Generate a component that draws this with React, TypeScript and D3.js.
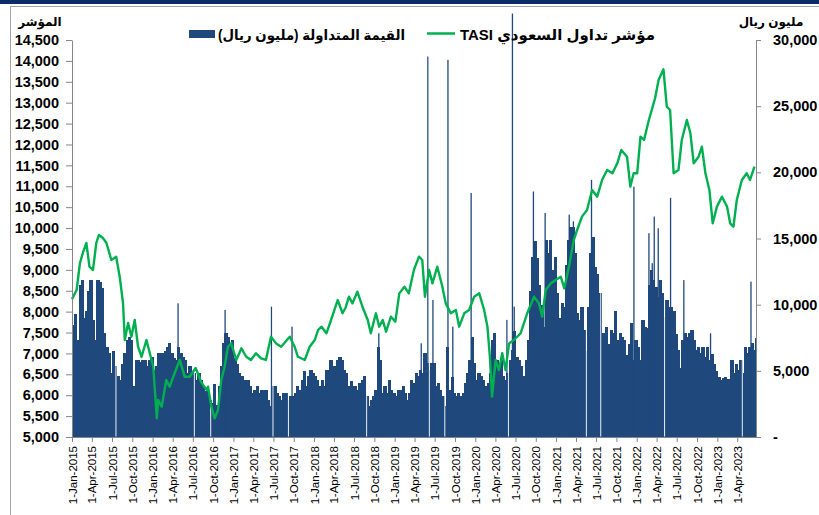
import React, { useEffect, useRef } from "react";
import * as d3 from "d3";

const W = 819,
  H = 515;

// axis ticks
const indexTicks = [
  5000, 5500, 6000, 6500, 7000, 7500, 8000, 8500, 9000, 9500, 10000, 10500,
  11000, 11500, 12000, 12500, 13000, 13500, 14000, 14500,
];
const valueTicks = [0, 5000, 10000, 15000, 20000, 25000, 30000];

const legendBars = "القيمة المتداولة (مليون ريال)";
const legendLine = "مؤشر تداول السعودي TASI";
const leftTitle = "المؤشر";
const rightTitle = "مليون ريال";

// TASI close
const tasi: [string, number][] = [
  ["2015-01-01", 8300], ["2015-01-22", 8518], ["2015-02-06", 9164], ["2015-02-21", 9434],
  ["2015-03-07", 9643], ["2015-03-21", 9075], ["2015-04-06", 8996], ["2015-04-21", 9643],
  ["2015-05-03", 9834], ["2015-05-21", 9762], ["2015-06-06", 9643], ["2015-06-28", 9236],
  ["2015-07-20", 9315], ["2015-08-05", 8836], ["2015-08-20", 8206], ["2015-08-28", 7321],
  ["2015-09-12", 7728], ["2015-09-27", 7400], ["2015-10-12", 7800], ["2015-10-27", 7160],
  ["2015-11-12", 6920], ["2015-12-04", 7321], ["2015-12-19", 7010], ["2016-01-04", 6682],
  ["2016-01-20", 5450], ["2016-01-26", 5885], ["2016-02-11", 5725], ["2016-03-03", 6364],
  ["2016-03-18", 6204], ["2016-04-10", 6532], ["2016-05-03", 6843], ["2016-05-25", 6443],
  ["2016-06-17", 6443], ["2016-07-14", 6650], ["2016-08-10", 6292], ["2016-09-02", 6125],
  ["2016-09-08", 6204], ["2016-09-23", 5725], ["2016-10-08", 5447], ["2016-10-23", 5646],
  ["2016-11-07", 6364], ["2016-11-22", 6682], ["2016-12-07", 7160], ["2016-12-22", 7240],
  ["2017-01-14", 6843], ["2017-02-06", 7122], ["2017-02-28", 6920], ["2017-03-21", 6843],
  ["2017-04-13", 7003], ["2017-05-06", 6883], ["2017-05-28", 6843], ["2017-06-20", 7400],
  ["2017-07-13", 7240], ["2017-08-05", 7160], ["2017-09-13", 7400], ["2017-10-05", 7160],
  ["2017-10-20", 6920], ["2017-11-20", 6843], ["2017-12-12", 7160], ["2018-01-04", 7321],
  ["2018-01-19", 7560], ["2018-02-04", 7640], ["2018-02-26", 7481], ["2018-03-19", 7800],
  ["2018-04-18", 8278], ["2018-05-10", 7960], ["2018-05-24", 8100], ["2018-06-08", 8357],
  ["2018-06-24", 8198], ["2018-07-16", 8477], ["2018-08-08", 8118], ["2018-09-01", 7800],
  ["2018-09-15", 7481], ["2018-10-08", 7960], ["2018-10-23", 7640], ["2018-11-08", 7800],
  ["2018-11-23", 7520], ["2018-12-15", 7879], ["2019-01-04", 7760], ["2019-01-22", 8437],
  ["2019-02-14", 8597], ["2019-03-06", 8437], ["2019-03-29", 8996], ["2019-04-21", 9315],
  ["2019-05-06", 9236], ["2019-05-18", 8357], ["2019-06-06", 8996], ["2019-06-21", 8677],
  ["2019-07-13", 9075], ["2019-08-05", 8597], ["2019-08-20", 8198], ["2019-09-12", 7960],
  ["2019-10-05", 8039], ["2019-10-20", 7640], ["2019-11-12", 7960], ["2019-12-04", 8039],
  ["2019-12-27", 8357], ["2020-01-19", 8437], ["2020-02-10", 8039], ["2020-02-25", 7640],
  ["2020-03-07", 6920], ["2020-03-17", 5965], ["2020-04-02", 6843], ["2020-04-17", 6603],
  ["2020-05-02", 7003], ["2020-05-17", 6603], ["2020-06-02", 7240], ["2020-06-24", 7321],
  ["2020-07-24", 7481], ["2020-08-23", 7960], ["2020-09-23", 8357], ["2020-10-15", 8198],
  ["2020-10-30", 7879], ["2020-11-15", 8518], ["2020-12-08", 8677], ["2020-12-30", 8757],
  ["2021-01-22", 8836], ["2021-02-07", 8557], ["2021-02-28", 9075], ["2021-03-22", 9714],
  ["2021-04-06", 9954], ["2021-04-28", 10273], ["2021-05-21", 10432], ["2021-06-13", 10911],
  ["2021-07-06", 10751], ["2021-07-28", 11150], ["2021-08-20", 11390], ["2021-09-13", 11310],
  ["2021-10-05", 11549], ["2021-10-23", 11868], ["2021-11-18", 11708], ["2021-12-03", 10990],
  ["2021-12-18", 11310], ["2022-01-03", 11310], ["2022-01-18", 12187], ["2022-02-03", 12107],
  ["2022-02-25", 12586], ["2022-03-10", 12825], ["2022-03-25", 13105], ["2022-04-10", 13543],
  ["2022-05-02", 13798], ["2022-05-17", 12905], ["2022-06-01", 12825], ["2022-06-17", 11310],
  ["2022-07-09", 11390], ["2022-07-24", 12107], ["2022-08-16", 12586], ["2022-09-01", 12267],
  ["2022-09-16", 11549], ["2022-10-08", 11708], ["2022-10-23", 11948], ["2022-11-08", 11310],
  ["2022-11-26", 10911], ["2022-12-11", 10113], ["2022-12-30", 10512], ["2023-01-22", 10751],
  ["2023-02-14", 10512], ["2023-02-28", 10113], ["2023-03-15", 10033], ["2023-03-30", 10672],
  ["2023-04-22", 11150], ["2023-05-14", 11310], ["2023-05-29", 11150], ["2023-06-18", 11469],
];

// traded value (SAR mn), three readings a month: 1st, 11th, 21st
const value2015 = [
  8500, 9300, 7330, 11500, 11870, 9000, 9500, 11000, 11870, 8850, 7330, 11870,
  11700, 11240, 7840, 6830, 6330, 4830, 6500, 5340, 4580, 4310, 5500, 6330,
  7330, 7590, 7330, 3820, 5840, 5840, 5700, 5840, 5840, 5340, 5800, 6080,
];
const value2016 = [
  5080, 5340, 6330, 6330, 6330, 6500, 6830, 7080, 6330, 6000, 5840, 6830,
  6330, 6080, 5840, 4830, 5340, 5000, 4830, 4310, 4830, 4310, 3820, 3500,
  3320, 2820, 2570, 4000, 2400, 3820, 5340, 7080, 7840, 7590, 7080, 7330,
];
const value2017 = [
  6000, 5500, 4830, 4580, 4330, 3820, 4330, 3820, 3320, 3570, 3820, 3320,
  3570, 3570, 3570, 2820, 2320, 3820, 3820, 3320, 3070, 2820, 3320, 3320,
  2820, 3070, 3070, 3320, 3820, 3570, 4330, 5000, 3820, 4580, 5080, 4830,
];
const value2018 = [
  4580, 4330, 3820, 4330, 3820, 5080, 5080, 5840, 5340, 5340, 5840, 6080,
  5840, 5080, 4830, 3820, 4200, 3840, 3840, 3570, 4080, 4330, 4580, 3070,
  2320, 2820, 3070, 3570, 6830, 5840, 3320, 3820, 3320, 4330, 3570, 3320,
];
const value2019 = [
  3070, 3570, 3570, 3820, 3320, 2820, 3320, 4330, 4080, 4830, 4580, 5080,
  4830, 6330, 5590, 5080, 5590, 5590, 3820, 4080, 3570, 3070, 2320, 6830,
  3570, 4500, 3320, 3070, 3320, 3070, 3320, 4080, 4830, 5840, 7590, 5590,
];
const value2020 = [
  4330, 4830, 4580, 4330, 3820, 4080, 4830, 7330, 7840, 5840, 5340, 5840,
  4580, 4330, 4830, 5840, 6580, 8000, 6080, 5840, 5340, 4580, 5840, 7330,
  11000, 13600, 14800, 13500, 11500, 10000, 8340, 14890, 13880, 14890, 12600, 13630,
];
const value2021 = [
  10860, 9000, 10100, 9850, 13000, 14890, 15890, 15890, 13880, 9350, 8850, 9850,
  8090, 6500, 9850, 13880, 15150, 12870, 12350, 10860, 7840, 7840, 8340, 7000,
  8090, 7840, 9500, 7330, 7840, 7590, 7330, 6200, 7000, 8590, 5840, 7330,
];
const value2022 = [
  6830, 5840, 8840, 8340, 8200, 11500, 12600, 11860, 11340, 10600, 11860, 10860,
  9100, 10350, 9850, 9800, 9500, 7800, 6580, 5200, 7330, 7840, 7590, 7840,
  8090, 7330, 6580, 6830, 6330, 6830, 6080, 6830, 5840, 6300, 5500, 4950,
];
const value2023 = [
  4500, 4300, 4450, 4500, 4400, 4000, 5800, 4830, 5500, 5080, 5840, 4830,
  6830, 6330, 6830, 7080, 6600, 7500,
];

// single-day peaks that stand out of the bars
const valueSpikes: [string, number][] = [
  ["2016-04-25", 10100], ["2016-11-24", 9600], ["2017-06-22", 9850], ["2017-09-23", 8340],
  ["2018-10-21", 7840], ["2019-05-01", 7080], ["2019-05-31", 28750], ["2019-06-23", 10360],
  ["2019-08-30", 28500], ["2019-09-21", 8340], ["2019-12-13", 18440], ["2020-05-23", 8850],
  ["2020-06-17", 32000], ["2020-06-25", 9850], ["2020-09-20", 18550], ["2020-11-12", 16930],
  ["2021-03-01", 16800], ["2021-03-20", 16300], ["2021-06-10", 19430], ["2021-12-19", 18920],
  ["2022-02-25", 15400], ["2022-03-12", 13130], ["2022-03-21", 16660], ["2022-04-08", 15770],
  ["2022-06-03", 18070], ["2022-08-02", 11860], ["2022-12-01", 7840], ["2023-06-02", 11740],
];

// holidays show up as blank columns
const holidays = [
  "2015-07-19", "2016-07-08", "2016-09-20", "2017-06-29", "2017-09-07", "2018-08-27",
  "2019-06-07", "2019-08-16", "2020-05-30", "2021-05-18", "2021-07-22", "2022-05-07",
  "2023-04-24",
];

const FONT = "Arial, 'Liberation Sans', 'DejaVu Sans', sans-serif";
const NAVY = "#1F497D";
const GREEN = "#00B050";
const AXIS = "#868686";

export default function App() {
  const ref = useRef<SVGSVGElement>(null);

  useEffect(() => {
    const svg = d3.select(ref.current);
    svg.selectAll("*").remove();

    const left = 72,
      right = 756,
      top = 40,
      bottom = 437;
    const parse = d3.timeParse("%Y-%m-%d");

    const x = d3
      .scaleTime()
      .domain([new Date(2015, 0, 1), new Date(2023, 5, 25)])
      .range([left, right]);
    const yIdx = d3.scaleLinear().domain([5000, 14500]).range([bottom, top]);
    const yVal = d3.scaleLinear().domain([0, 30000]).range([bottom, top]);

    const years: [number, number[]][] = [
      [2015, value2015], [2016, value2016], [2017, value2017], [2018, value2018],
      [2019, value2019], [2020, value2020], [2021, value2021], [2022, value2022],
      [2023, value2023],
    ];
    const traded = years.flatMap(([yr, vals]) =>
      vals.map((v, i) => ({
        date: new Date(yr, Math.floor(i / 3), 1 + 10 * (i % 3)),
        value: v,
      }))
    );

    // frame
    svg.append("rect").attr("x", 0).attr("y", 0).attr("width", W).attr("height", 4).attr("fill", "#0B2C66");
    svg.append("line").attr("x1", 10).attr("x2", W).attr("y1", 6.5).attr("y2", 6.5).attr("stroke", "#A6A6A6");
    svg.append("line").attr("x1", 10.5).attr("x2", 10.5).attr("y1", 6).attr("y2", H).attr("stroke", "#A6A6A6");

    // bars
    const bars = svg.append("g");
    bars
      .append("g")
      .attr("shape-rendering", "crispEdges")
      .selectAll("rect")
      .data(traded)
      .enter()
      .append("rect")
      .attr("x", (d) => x(d.date))
      .attr("width", (d, i) => {
        const next = i < traded.length - 1 ? x(traded[i + 1].date) : right;
        return Math.max(0, Math.min(next + 1, right) - x(d.date));
      })
      .attr("y", (d) => yVal(d.value))
      .attr("height", (d) => bottom - yVal(d.value))
      .attr("fill", NAVY);

    bars
      .selectAll(".spike")
      .data(valueSpikes)
      .enter()
      .append("rect")
      .attr("class", "spike")
      .attr("x", (d) => x(parse(d[0])!) - 0.6)
      .attr("width", 1.3)
      .attr("y", (d) => yVal(d[1]))
      .attr("height", (d) => bottom - yVal(d[1]))
      .attr("fill", NAVY);

    bars
      .selectAll(".gap")
      .data(holidays)
      .enter()
      .append("rect")
      .attr("class", "gap")
      .attr("x", (d) => x(parse(d)!) - 0.5)
      .attr("width", 1)
      .attr("y", top - 30)
      .attr("height", bottom - top + 29.5)
      .attr("fill", "#fff")
      .attr("opacity", 0.9);

    // TASI line
    const line = d3
      .line<[string, number]>()
      .x((d) => x(parse(d[0])!))
      .y((d) => yIdx(d[1]));
    svg
      .append("path")
      .datum(tasi)
      .attr("d", line)
      .attr("fill", "none")
      .attr("stroke", GREEN)
      .attr("stroke-width", 2.4)
      .attr("stroke-linejoin", "round");

    const styleAxis = (g: any) => {
      g.select(".domain").attr("stroke", AXIS);
      g.selectAll(".tick line").attr("stroke", AXIS);
      g.selectAll("text").attr("fill", "#000").style("font-family", FONT);
    };

    // left axis
    svg
      .append("g")
      .attr("transform", `translate(${left},0)`)
      .call(
        d3.axisLeft(yIdx).tickValues(indexTicks).tickFormat(d3.format(",") as any).tickSize(6).tickSizeOuter(0).tickPadding(7)
      )
      .call(styleAxis)
      .selectAll("text")
      .style("font-size", "14.5px")
      .style("font-weight", "bold");

    // right axis
    const fmt = d3.format(",");
    svg
      .append("g")
      .attr("transform", `translate(${right},0)`)
      .call(
        d3
          .axisRight(yVal)
          .tickValues(valueTicks)
          .tickFormat((d: any) => (d === 0 ? "-" : fmt(d)))
          .tickSize(5)
          .tickSizeOuter(0)
          .tickPadding(12)
      )
      .call(styleAxis)
      .selectAll("text")
      .style("font-size", "14.5px")
      .style("font-weight", "bold");

    // bottom axis
    svg
      .append("g")
      .attr("transform", `translate(0,${bottom})`)
      .call(
        d3
          .axisBottom(x)
          .ticks(d3.timeMonth.every(3))
          .tickFormat(d3.timeFormat("%-d-%b-%Y") as any)
          .tickSize(5)
          .tickSizeOuter(0)
      )
      .call(styleAxis)
      .selectAll("text")
      .attr("transform", "rotate(-90)")
      .attr("x", -9)
      .attr("y", 0)
      .attr("dy", "0.35em")
      .style("text-anchor", "end")
      .style("font-size", "11.5px");

    // axis titles
    svg
      .append("text")
      .attr("x", 40)
      .attr("y", 26)
      .attr("text-anchor", "middle")
      .attr("direction", "rtl")
      .style("font-family", FONT)
      .style("font-size", "12px")
      .style("font-weight", "bold")
      .text(leftTitle);
    svg
      .append("text")
      .attr("x", 771)
      .attr("y", 26)
      .attr("text-anchor", "middle")
      .attr("direction", "rtl")
      .style("font-family", FONT)
      .style("font-size", "12px")
      .style("font-weight", "bold")
      .text(rightTitle);

    // legend
    const lg = svg.append("g").style("font-family", FONT).style("font-weight", "bold");
    lg.append("rect").attr("x", 189).attr("y", 30).attr("width", 26).attr("height", 8).attr("fill", NAVY);
    lg.append("text")
      .attr("x", 311.5)
      .attr("y", 40)
      .attr("text-anchor", "middle")
      .attr("direction", "rtl")
      .style("font-size", "14px")
      .attr("textLength", 187)
      .attr("lengthAdjust", "spacingAndGlyphs")
      .text(legendBars);
    lg.append("line").attr("x1", 427).attr("x2", 455).attr("y1", 33.5).attr("y2", 33.5).attr("stroke", GREEN).attr("stroke-width", 2.5);
    lg.append("text")
      .attr("x", 557.5)
      .attr("y", 40)
      .attr("text-anchor", "middle")
      .attr("direction", "rtl")
      .style("font-size", "15px")
      .attr("textLength", 195)
      .attr("lengthAdjust", "spacingAndGlyphs")
      .text(legendLine);
  }, []);

  return (
    <svg
      ref={ref}
      width={W}
      height={H}
      style={{ position: "absolute", left: 0, top: 0, background: "#fff" }}
    />
  );
}
